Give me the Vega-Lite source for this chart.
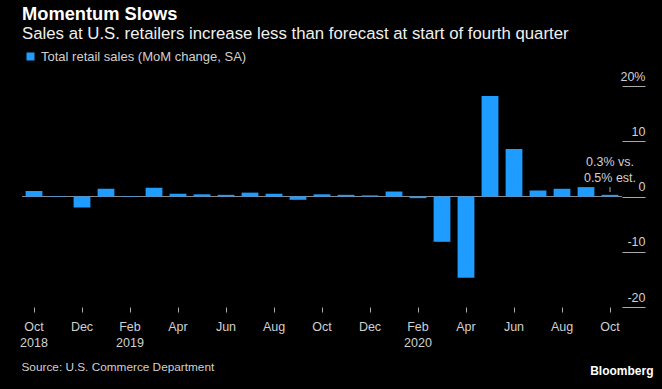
{
  "$schema": "https://vega.github.io/schema/vega-lite/v6.json",
  "width": 600,
  "height": 221,
  "autosize": {"type": "none"},
  "padding": {"left": 22, "top": 86, "right": 40, "bottom": 82},
  "background": "#000000",
  "config": {"view": {"stroke": null}, "font": "Liberation Sans"},
  "title": {
    "text": "Momentum Slows",
    "subtitle": "Sales at U.S. retailers increase less than forecast at start of fourth quarter",
    "anchor": "start",
    "frame": "group",
    "color": "#ffffff",
    "subtitleColor": "#f0f0f0",
    "font": "Liberation Sans",
    "subtitleFont": "Liberation Sans",
    "fontSize": 18.3,
    "subtitleFontSize": 16.8,
    "fontWeight": "bold",
    "subtitlePadding": 2,
    "offset": 6
  },
  "data": {
    "values": [
      {"month": "2018-10", "value": 1.0},
      {"month": "2018-11", "value": 0.1},
      {"month": "2018-12", "value": -2.0},
      {"month": "2019-01", "value": 1.4},
      {"month": "2019-02", "value": -0.1},
      {"month": "2019-03", "value": 1.6},
      {"month": "2019-04", "value": 0.5},
      {"month": "2019-05", "value": 0.4},
      {"month": "2019-06", "value": 0.3},
      {"month": "2019-07", "value": 0.7},
      {"month": "2019-08", "value": 0.5},
      {"month": "2019-09", "value": -0.6},
      {"month": "2019-10", "value": 0.4},
      {"month": "2019-11", "value": 0.3},
      {"month": "2019-12", "value": 0.2},
      {"month": "2020-01", "value": 0.9},
      {"month": "2020-02", "value": -0.3},
      {"month": "2020-03", "value": -8.2},
      {"month": "2020-04", "value": -14.7},
      {"month": "2020-05", "value": 18.2},
      {"month": "2020-06", "value": 8.6},
      {"month": "2020-07", "value": 1.1},
      {"month": "2020-08", "value": 1.4},
      {"month": "2020-09", "value": 1.7},
      {"month": "2020-10", "value": 0.3}
    ]
  },
  "layer": [
    {
      "mark": {"type": "rule", "color": "#8a8a8a", "strokeWidth": 1},
      "encoding": {"y": {"datum": 0, "type": "quantitative"}}
    },
    {
      "mark": {"type": "bar"},
      "encoding": {
        "x": {
          "field": "month",
          "type": "ordinal",
          "sort": null,
          "scale": {"paddingInner": 0.3, "paddingOuter": 0.15},
          "axis": {
            "values": ["2018-10","2018-12","2019-02","2019-04","2019-06","2019-08","2019-10","2019-12","2020-02","2020-04","2020-06","2020-08","2020-10"],
            "labelExpr": "[['Jan','Feb','Mar','Apr','May','Jun','Jul','Aug','Sep','Oct','Nov','Dec'][toNumber(substring(datum.value,5,7))-1], (datum.value=='2018-10'||datum.value=='2019-02'||datum.value=='2020-02') ? substring(datum.value,0,4) : '']",
            "domain": false,
            "grid": false,
            "ticks": true,
            "tickColor": "#aaaaaa",
            "tickSize": 5,
            "labelColor": "#d0d0d0",
            "labelFontSize": 12.5,
            "labelPadding": 8,
            "labelBaseline": "top",
            "labelLineHeight": 16,
            "labelAngle": 0,
            "title": "Source: U.S. Commerce Department",
            "titleX": -1,
            "titleY": 59,
            "titleAlign": "left",
            "titleAnchor": "start",
            "titleBaseline": "middle",
            "titleFontWeight": "normal",
            "titleColor": "#d0d0d0",
            "titleFontSize": 11.8
          }
        },
        "y": {
          "field": "value",
          "type": "quantitative",
          "scale": {"domain": [-20, 20], "nice": false},
          "axis": {
            "orient": "right",
            "values": [-20, -10, 0, 10, 20],
            "labelExpr": "datum.value == 20 ? '20%' : '' + datum.value",
            "domain": false,
            "grid": false,
            "tickSize": 23,
            "tickColor": "#aaaaaa",
            "labelAlign": "right",
            "labelBaseline": "alphabetic",
            "labelOffset": -6,
            "labelPadding": 0,
            "labelColor": "#d0d0d0",
            "labelFontSize": 12.5,
            "title": "Bloomberg",
            "titleAngle": 0,
            "titleX": 31,
            "titleY": 284,
            "titleAlign": "right",
            "titleBaseline": "middle",
            "titleFontWeight": "bold",
            "titleColor": "#ffffff",
            "titleFontSize": 12
          }
        },
        "color": {
          "datum": "Total retail sales (MoM change, SA)",
          "scale": {"range": ["#1e9cff"]},
          "legend": {
            "orient": "none",
            "legendX": 2,
            "legendY": -36,
            "title": null,
            "symbolType": "square",
            "symbolSize": 64,
            "symbolStrokeWidth": 0,
            "labelColor": "#d0d0d0",
            "labelFontSize": 13,
            "labelLimit": 400
          }
        }
      }
    },
    {
      "transform": [{"filter": "datum.month == '2020-10'"}],
      "mark": {"type": "rule", "color": "#aaaaaa", "strokeWidth": 1},
      "encoding": {
        "x": {"field": "month", "type": "ordinal", "sort": null},
        "y": {"datum": 0.8, "type": "quantitative"},
        "y2": {"datum": 1.7}
      }
    },
    {
      "transform": [{"filter": "datum.month == '2020-10'"}],
      "mark": {"type": "text", "text": ["0.3% vs.", "0.5% est."], "align": "center", "baseline": "bottom", "color": "#d0d0d0", "fontSize": 12.5, "lineHeight": 16},
      "encoding": {
        "x": {"field": "month", "type": "ordinal", "sort": null},
        "y": {"datum": 5.0, "type": "quantitative"}
      }
    }
  ]
}
